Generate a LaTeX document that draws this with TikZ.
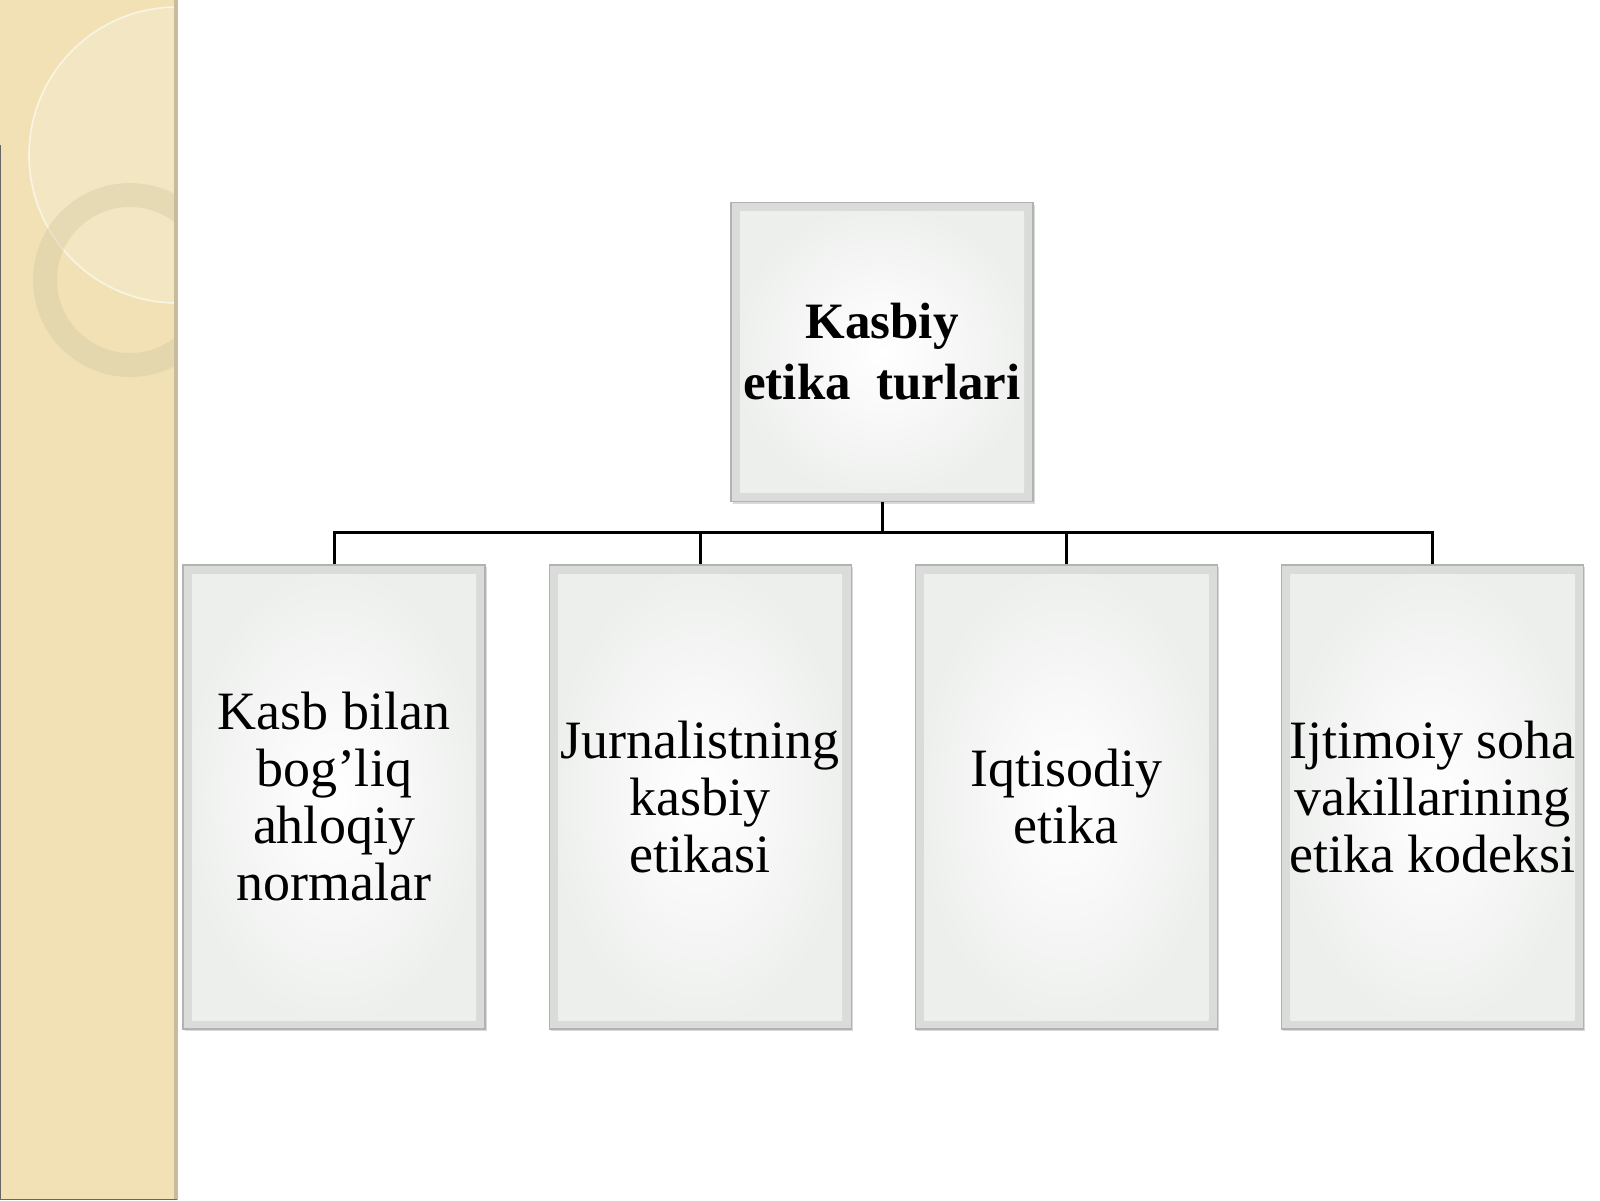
\documentclass[tikz,border=0pt]{standalone}
\usepackage{fontspec}
\setmainfont{Liberation Serif}
\usetikzlibrary{positioning,shadows}
\definecolor{stripbeige}{HTML}{F1E1B4}
\definecolor{stripedge}{HTML}{C9BC9C}
\definecolor{ringtan}{HTML}{D8CBA6}
\definecolor{bevelgray}{HTML}{D9DCD9}
\definecolor{facegray}{HTML}{EDEFED}
\tikzset{
  etikabox/.style={rectangle, draw=gray!60, line width=0.6pt, fill=bevelgray,
    drop shadow={shadow xshift=0.8pt, shadow yshift=-1.2pt, opacity=0.3},
    align=center, inner sep=0pt,
    path picture={\shade[inner color=white, outer color=facegray]
      ([shift={(4.5pt,-4.5pt)}]path picture bounding box.north west) rectangle
      ([shift={(-4.5pt,4.5pt)}]path picture bounding box.south east);}},
  bosh/.style={etikabox, minimum width=151pt, minimum height=149.5pt,
    font=\fontsize{25.5}{30.5}\selectfont\bfseries},
  tur/.style={etikabox, minimum width=151pt, minimum height=232pt,
    font=\fontsize{27}{28.5}\selectfont},
  chiziq/.style={line width=1.5pt, black},
  tirsak/.style={to path={-| (\tikztotarget)}}
}
\begin{document}
\begin{tikzpicture}[x=0.5pt, y=-0.5pt, node distance=31.5pt]
            \useasboundingbox (0,0) rectangle (1600,1200);
            % chap tomondagi bezak
            \fill[stripbeige] (0,0) rectangle (177,1200);
            \begin{scope}
              \clip (0,0) rectangle (175,1200);
              \fill[white, opacity=0.2] (177,155) circle[radius=74pt];
              \draw[white, opacity=0.6, line width=0.8pt] (177,155) circle[radius=74pt];
              \fill[ringtan, opacity=0.45, even odd rule]
                (130,280) circle[radius=48.5pt] (130,280) circle[radius=36.5pt];
            \end{scope}
            \draw[stripedge, line width=2pt] (176,0) -- (176,1200);
            \draw[black!60, line width=0.6pt] (0.3,145) -- (0.3,1199.5) -- (177,1199.5);

            \node (0) [bosh] at (882,352) {Kasbiy\\etika\ \ turlari};
            \node (1) [tur] at (334,797) {Kasb bilan\\bog’liq\\ahloqiy\\normalar};
            \node (2) [tur, right=of 1] {Jurnalistning\\kasbiy\\etikasi};
            \node (3) [tur, right=of 2] {Iqtisodiy\\etika};
            \node (4) [tur, right=of 3] {Ijtimoiy soha\\vakillarining\\etika kodeksi};
            \coordinate (b) at ([yshift=-15pt]0.south);

            \path[chiziq]
            (0) edge (b)
            (b) edge[tirsak] (1.north)
            (b) edge[tirsak] (2.north)
            (b) edge[tirsak] (3.north)
            (b) edge[tirsak] (4.north);

        \end{tikzpicture}
\end{document}
